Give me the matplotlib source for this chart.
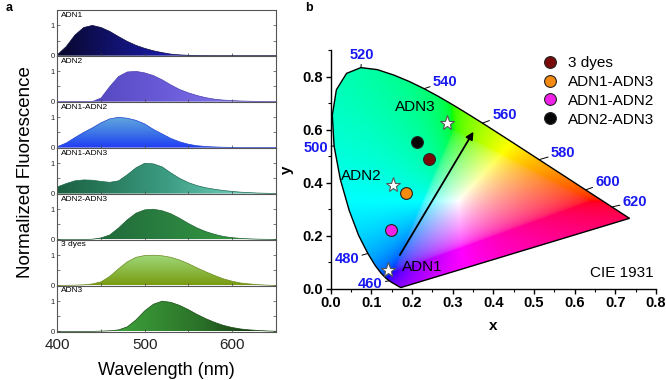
import numpy as np
import matplotlib
matplotlib.use('Agg')
import matplotlib.pyplot as plt
from matplotlib.colors import LinearSegmentedColormap
from matplotlib.patches import Polygon
from matplotlib.ticker import FormatStrFormatter, MultipleLocator

plt.rcParams['font.family'] = ['Liberation Sans', 'DejaVu Sans']

# ---- panel a: normalized emission spectra ----
wavelength = np.arange(400, 651, 10)
spec_names = ['ADN1', 'ADN2', 'ADN1-ADN2', 'ADN1-ADN3', 'ADN2-ADN3', '3 dyes', 'ADN3']
adn1 = [0.03, 0.30, 0.68, 0.93, 1.00, 0.93, 0.80, 0.63, 0.47, 0.34, 0.24, 0.16, 0.10,
        0.05, 0.025, 0.012, 0.006, 0.003, 0, 0, 0, 0, 0, 0, 0, 0]
adn2 = [0, 0, 0, 0, 0.0, 0.12, 0.50, 0.83, 0.98, 1.00, 0.95, 0.86, 0.72,
        0.55, 0.40, 0.29, 0.20, 0.13, 0.08, 0.05, 0.035, 0.02, 0.012, 0.007, 0.003, 0]
adn1_adn2 = [0.03, 0.15, 0.33, 0.50, 0.65, 0.82, 0.95, 1.00, 0.97, 0.90, 0.78, 0.60, 0.45,
             0.30, 0.19, 0.11, 0.06, 0.035, 0.02, 0.01, 0.005, 0, 0, 0, 0, 0]
adn1_adn3 = [0.22, 0.33, 0.42, 0.45, 0.44, 0.40, 0.37, 0.42, 0.62, 0.85, 1.00, 0.98, 0.88,
             0.68, 0.50, 0.36, 0.26, 0.19, 0.14, 0.10, 0.07, 0.045, 0.03, 0.015, 0.008, 0]
adn2_adn3 = [0, 0, 0, 0, 0.01, 0.05, 0.15, 0.38, 0.65, 0.87, 0.98, 1.00, 0.95,
             0.85, 0.70, 0.53, 0.38, 0.26, 0.17, 0.10, 0.06, 0.035, 0.02, 0.01, 0.005, 0]
three_dyes = [0, 0.005, 0.01, 0.02, 0.05, 0.12, 0.30, 0.55, 0.78, 0.93, 0.99, 1.00, 0.98,
              0.93, 0.84, 0.72, 0.58, 0.45, 0.33, 0.22, 0.14, 0.08, 0.05, 0.025, 0.01, 0]
adn3 = [0, 0, 0, 0, 0, 0.01, 0.02, 0.05, 0.15, 0.38, 0.68, 0.90, 1.00,
        0.96, 0.86, 0.72, 0.56, 0.42, 0.30, 0.20, 0.13, 0.08, 0.05, 0.03, 0.015, 0.005]
spectra = [adn1, adn2, adn1_adn2, adn1_adn3, adn2_adn3, three_dyes, adn3]

# gradient colours (left->right for 'h', bottom->top for 'v')
grad_dirs = ['h', 'h', 'v', 'h', 'h', 'v', 'h']
grad_cols = [['#08082c', '#1a1aa8', '#2c2cf8'],
             ['#4a3eb4', '#6a5cd8', '#8c82f2'],
             ['#1f3cf5', '#3f78e6', '#62aadc'],
             ['#1a6040', '#3c9c82', '#84e2d4'],
             ['#1a5a38', '#2a8040', '#3ca63c'],
             ['#7a9a10', '#8cbc48', '#a2dc82'],
             ['#48b048', '#3a9a38', '#2a7028', '#0e2008']]
edge_cols = ['#0a0a40', '#4a40b0', '#2040d0', '#1a6a50', '#1a6030', '#6a8a20', '#1a4a14']

# ---- panel b: CIE 1931 spectral locus (380-700 nm, 5 nm) ----
cie_wl = np.arange(380, 701, 5)
cie_x = [0.1741, 0.1740, 0.1738, 0.1736, 0.1733, 0.1730, 0.1726, 0.1721, 0.1714, 0.1703,
         0.1689, 0.1669, 0.1644, 0.1611, 0.1566, 0.1510, 0.1440, 0.1355, 0.1241, 0.1096,
         0.0913, 0.0687, 0.0454, 0.0235, 0.0082, 0.0039, 0.0139, 0.0389, 0.0743, 0.1142,
         0.1547, 0.1929, 0.2296, 0.2658, 0.3016, 0.3373, 0.3731, 0.4087, 0.4441, 0.4788,
         0.5125, 0.5448, 0.5752, 0.6029, 0.6270, 0.6482, 0.6658, 0.6801, 0.6915, 0.7006,
         0.7079, 0.7140, 0.7190, 0.7230, 0.7260, 0.7283, 0.7300, 0.7311, 0.7320, 0.7327,
         0.7334, 0.7340, 0.7344, 0.7346, 0.7347]
cie_y = [0.0050, 0.0050, 0.0049, 0.0049, 0.0048, 0.0048, 0.0048, 0.0048, 0.0051, 0.0058,
         0.0069, 0.0086, 0.0109, 0.0138, 0.0177, 0.0227, 0.0297, 0.0399, 0.0578, 0.0868,
         0.1327, 0.2007, 0.2950, 0.4127, 0.5384, 0.6548, 0.7502, 0.8120, 0.8338, 0.8262,
         0.8059, 0.7816, 0.7543, 0.7243, 0.6923, 0.6589, 0.6245, 0.5896, 0.5547, 0.5202,
         0.4866, 0.4544, 0.4242, 0.3965, 0.3725, 0.3514, 0.3340, 0.3197, 0.3083, 0.2993,
         0.2920, 0.2859, 0.2809, 0.2770, 0.2740, 0.2717, 0.2700, 0.2689, 0.2680, 0.2673,
         0.2666, 0.2660, 0.2656, 0.2654, 0.2653]
mark_wl = [460, 480, 500, 520, 540, 560, 580, 600, 620]
mark_offsets = [(-19, -3), (-21, -6), (-18, -2), (1, 13), (21, 7), (22, 8), (24, 7), (22, 8), (23, 5)]

blend_names = ['3 dyes', 'ADN1-ADN3', 'ADN1-ADN2', 'ADN2-ADN3']
blend_x = [0.242, 0.184, 0.148, 0.211]
blend_y = [0.488, 0.360, 0.221, 0.552]
blend_cols = ['#7a0a0a', '#f58a10', '#f020e8', '#050505']

dye_names = ['ADN1', 'ADN2', 'ADN3']
dye_x = [0.142, 0.154, 0.287]
dye_y = [0.071, 0.391, 0.624]
dye_label_offsets = [(0.082, 0.012), (-0.078, 0.035), (-0.080, 0.063)]

arrow_start = (0.170, 0.127)
arrow_end = (0.351, 0.592)

fig = plt.figure(figsize=(6.66, 3.8), dpi=100)

# ---------------- panel a ----------------
left, width = 0.0863, 0.3276
top, total_h = 0.9729, 0.8466
h = total_h / len(spectra)
for i, (name, vals) in enumerate(zip(spec_names, spectra)):
    ax = fig.add_axes([left, top - (i + 1) * h, width, h])
    vals = np.array(vals)
    cmap = LinearSegmentedColormap.from_list(name, grad_cols[i])
    g = np.linspace(0, 1, 256)
    grad = g.reshape(1, -1) if grad_dirs[i] == 'h' else g.reshape(-1, 1)
    im = ax.imshow(grad, extent=[400, 650, 0, 1.05], origin='lower', aspect='auto',
                   cmap=cmap, zorder=1)
    verts = np.column_stack([np.r_[wavelength, wavelength[::-1]],
                             np.r_[vals, np.zeros_like(vals)]])
    patch = Polygon(verts, closed=True, facecolor='none', edgecolor='none')
    ax.add_patch(patch)
    im.set_clip_path(patch)
    ax.plot(wavelength, vals, color=edge_cols[i], lw=0.5, zorder=2)
    ax.set_xlim(400, 650)
    ax.set_ylim(-0.02, 1.5)
    ax.set_yticks([0, 1])
    ax.set_yticklabels(['0', '1'])
    ax.yaxis.set_minor_locator(MultipleLocator(0.5))
    ax.xaxis.set_major_locator(MultipleLocator(100))
    ax.xaxis.set_minor_locator(MultipleLocator(50))
    ax.tick_params(which='both', direction='in', left=True, right=True, bottom=True,
                   top=False, length=2, width=0.5, labelsize=5.5, pad=2, colors='#444444',
                   labelcolor='#222222')
    for s in ax.spines.values():
        s.set_color('#555555')
        s.set_linewidth(0.8)
    ax.text(0.015, 0.97, name, transform=ax.transAxes, ha='left', va='top', fontsize=6)
    if i < len(spectra) - 1:
        ax.tick_params(labelbottom=False)
    else:
        ax.tick_params(axis='x', labelsize=11, pad=4)

fig.text(0.038, 0.546, 'Normalized Fluorescence', rotation=90, ha='center', va='center',
         fontsize=13.5)
fig.text(0.25, 0.026, 'Wavelength (nm)', ha='center', va='center', fontsize=13)
fig.text(0.008, 0.978, 'a', fontsize=9, fontweight='bold', ha='left', va='center')
fig.text(0.458, 0.978, 'b', fontsize=9, fontweight='bold', ha='left', va='center')

# ---------------- panel b ----------------
ax2 = fig.add_axes([0.4966, 0.2403, 0.4884, 0.628])
N = 500
xx, yy = np.meshgrid(np.linspace(0, 0.8, N), np.linspace(0.002, 0.9, N))
X = xx / yy
Z = (1 - xx - yy) / yy
Y = np.ones_like(X)
R = 3.2406 * X - 1.5372 * Y - 0.4986 * Z
G = -0.9689 * X + 1.8758 * Y + 0.0415 * Z
B = 0.0557 * X - 0.2040 * Y + 1.0570 * Z
rgb = np.dstack([R, G, B])
# out-of-gamut colours: add white until no channel is negative
rgb = rgb - np.minimum(rgb.min(axis=2, keepdims=True), 0)
rgb = rgb / rgb.max(axis=2, keepdims=True).clip(1e-6)
rgb = np.clip(rgb, 0, 1) ** (1 / 2.2)
im = ax2.imshow(rgb, extent=[0, 0.8, 0.002, 0.9], origin='lower', aspect='auto',
                interpolation='bilinear', zorder=1)
locus = Polygon(np.column_stack([cie_x, cie_y]), closed=True, facecolor='none',
                edgecolor='black', lw=1.0, zorder=2)
ax2.add_patch(locus)
im.set_clip_path(locus)

for w, (dx, dy) in zip(mark_wl, mark_offsets):
    k = list(cie_wl).index(w)
    ax2.annotate(str(w), xy=(cie_x[k], cie_y[k]), xytext=(dx, dy), textcoords='offset pixels',
                 ha='center', va='center', fontsize=10.5, fontweight='bold', color='#1818f0',
                 arrowprops=dict(arrowstyle='-', color='black', lw=0.7, shrinkA=0, shrinkB=0),
                 zorder=3, annotation_clip=False)

ax2.annotate('', xy=arrow_end, xytext=arrow_start,
             arrowprops=dict(arrowstyle='-|>', color='black', lw=1.3, mutation_scale=11,
                             shrinkA=0, shrinkB=0), zorder=4)

for n, x, y, c in zip(blend_names, blend_x, blend_y, blend_cols):
    ax2.plot(x, y, 'o', ms=8.5, color=c, mec='#222222', mew=0.8, label=n, zorder=5)
for n, x, y, (ox, oy) in zip(dye_names, dye_x, dye_y, dye_label_offsets):
    ax2.plot(x, y, '*', ms=11, color='white', mec='#555555', mew=0.8, zorder=5)
    ax2.text(x + ox, y + oy, n, ha='center', va='center', fontsize=11, zorder=6)

ax2.text(0.795, 0.058, 'CIE 1931', ha='right', va='center', fontsize=11)

ax2.legend(loc='upper right', bbox_to_anchor=(0.995, 0.975), frameon=False, fontsize=11,
           handletextpad=0.7, labelspacing=0.32, handlelength=1.0, borderpad=0,
           borderaxespad=0)

ax2.set_xlim(0, 0.8)
ax2.set_ylim(0, 0.9)
ax2.spines['top'].set_visible(False)
ax2.spines['right'].set_visible(False)
ax2.spines['left'].set_linewidth(1.0)
ax2.spines['bottom'].set_linewidth(1.0)
ax2.set_xticks(np.arange(0, 0.81, 0.1))
ax2.set_yticks(np.arange(0, 0.81, 0.2))
ax2.xaxis.set_minor_locator(MultipleLocator(0.05))
ax2.yaxis.set_minor_locator(MultipleLocator(0.1))
ax2.xaxis.set_major_formatter(FormatStrFormatter('%.1f'))
ax2.yaxis.set_major_formatter(FormatStrFormatter('%.1f'))
ax2.tick_params(which='major', direction='out', length=3.5, width=1, labelsize=10.5, pad=2)
ax2.tick_params(which='minor', direction='out', length=2, width=0.8)
for lbl in ax2.get_xticklabels() + ax2.get_yticklabels():
    lbl.set_fontweight('bold')
ax2.set_xlabel('x', fontsize=11, fontweight='bold', labelpad=6)
ax2.set_ylabel('y', fontsize=11, fontweight='bold', labelpad=6)

fig.savefig('out.png', dpi=100)
